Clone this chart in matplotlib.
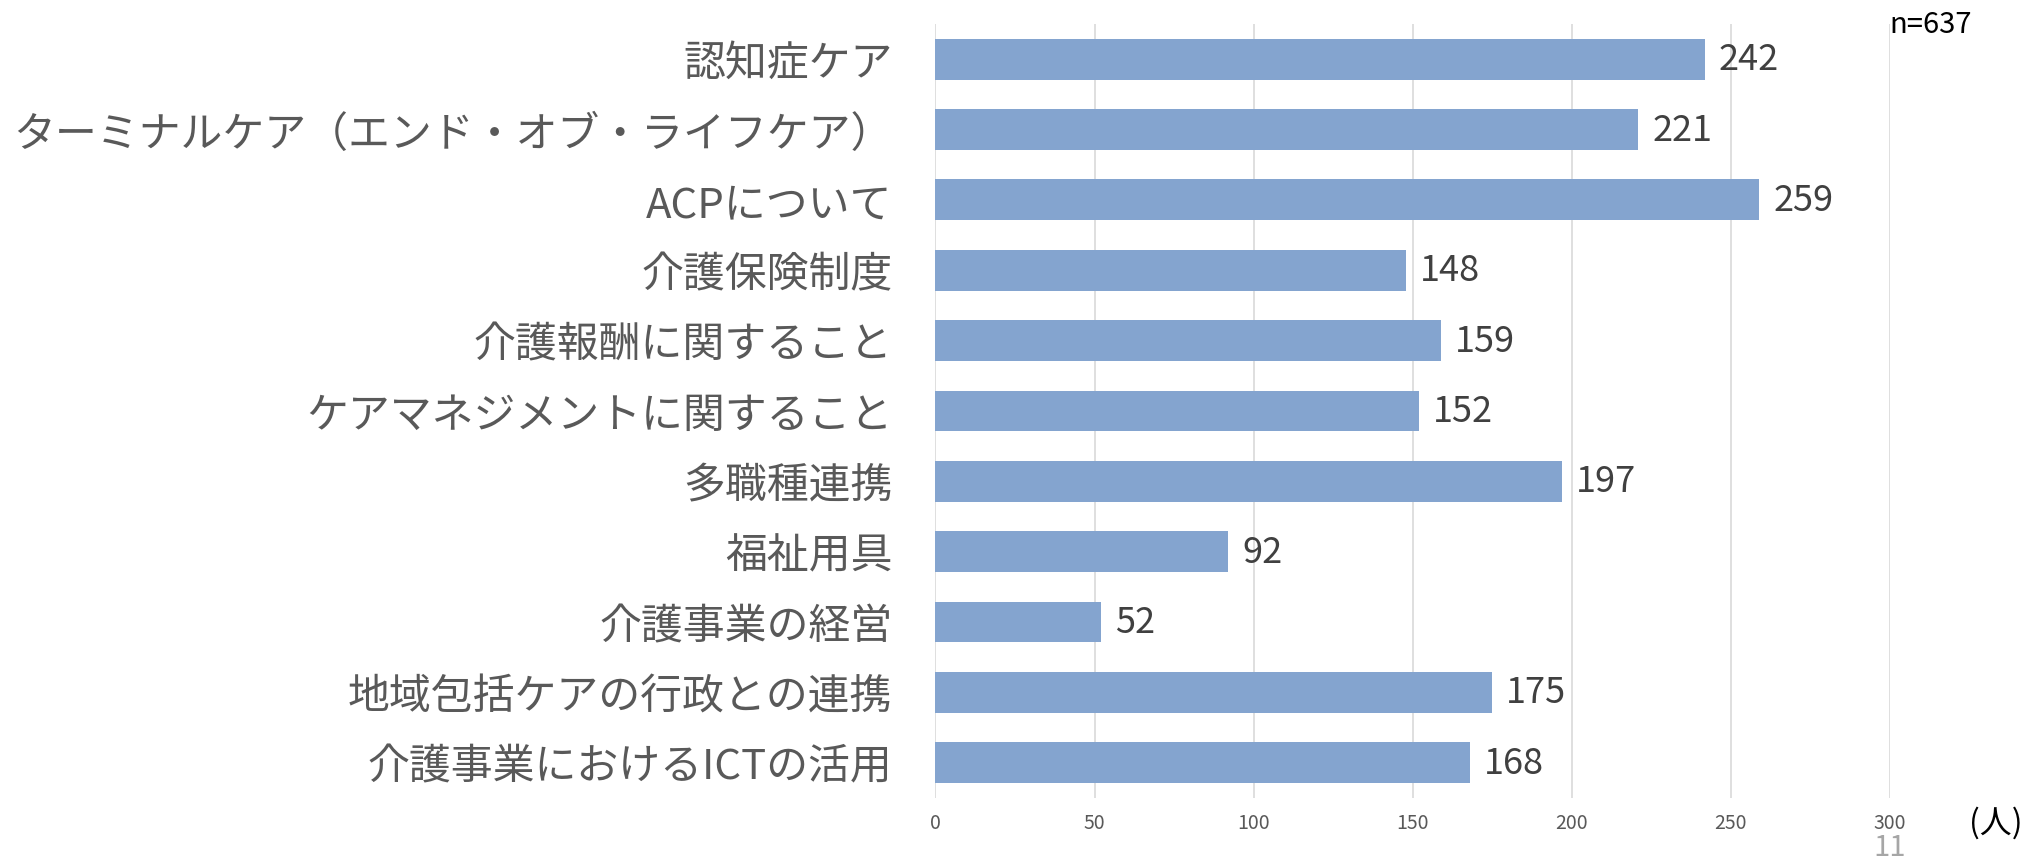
import numpy as np
import matplotlib.pyplot as plt

plt.rcParams['font.family'] = ['Noto Sans CJK JP', 'DejaVu Sans']

# data
categories = [
    '認知症ケア',
    'ターミナルケア（エンド・オブ・ライフケア）',
    'ACPについて',
    '介護保険制度',
    '介護報酬に関すること',
    'ケアマネジメントに関すること',
    '多職種連携',
    '福祉用具',
    '介護事業の経営',
    '地域包括ケアの行政との連携',
    '介護事業におけるICTの活用',
]
counts = [242, 221, 259, 148, 159, 152, 197, 92, 52, 175, 168]
x_ticks = [0, 50, 100, 150, 200, 250, 300]

bar_color = '#84A4CF'
text_color = '#595959'

fig = plt.figure(figsize=(20.39, 8.62), dpi=100)
ax = fig.add_axes([0.4588, 0.0731, 0.4679, 0.8979])

y = np.arange(len(categories))
ax.barh(y, counts, height=0.58, color=bar_color, zorder=3)

# value labels next to the bars
for yi, v in zip(y, counts):
    ax.annotate(str(v), (v, yi), xytext=(10, 0), textcoords='offset points',
                va='center', ha='left', fontsize=26, color='#404040')

ax.set_xlim(0, 300)
ax.set_ylim(len(categories) - 0.5, -0.5)
ax.set_xticks(x_ticks)
ax.set_xticklabels([str(t) for t in x_ticks], fontsize=14, color=text_color)
ax.set_yticks(y)
ax.set_yticklabels(categories, fontsize=30.2, color=text_color)
ax.tick_params(axis='y', length=0, pad=31)
ax.tick_params(axis='x', length=0, pad=10)

ax.grid(axis='x', color='#d9d9d9', linewidth=1.2, zorder=0)
for s in ax.spines.values():
    s.set_visible(False)

fig.text(1996 / 2039, 1 - 823 / 862, '(人)', fontsize=23, color='black',
         ha='center', va='center')
fig.text(1931 / 2039, 1 - 25 / 862, 'n=637', fontsize=21, color='black',
         ha='center', va='center')
fig.text(1890 / 2039, 1 - 848 / 862, '11', fontsize=21, color='#a6a6a6',
         ha='center', va='center')

plt.savefig('out.png', dpi=100)
